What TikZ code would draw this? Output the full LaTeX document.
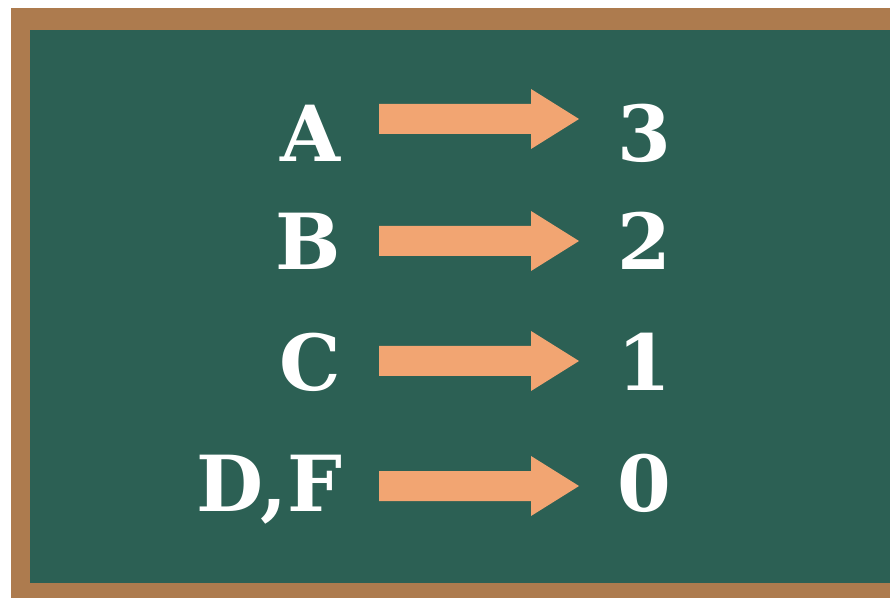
\documentclass[tikz,border=0pt]{standalone}
\usepackage{fontspec}
\setmainfont{DejaVu Serif}
\usetikzlibrary{positioning}
\definecolor{boardgreen}{HTML}{2C6054}
\definecolor{framebrown}{HTML}{AD7B4E}
\definecolor{arrowfill}{HTML}{F2A572}

\begin{document}
\begin{tikzpicture}[x=0.03cm, y=-0.03cm,
  lbl/.style={text=white, font=\fontsize{66}{72}\selectfont\bfseries, inner sep=0pt},
  blk/.style={fill=arrowfill}]
\useasboundingbox (0,0) rectangle (890,598);
\fill[white] (0,0) rectangle (890,598);
% board
\fill[framebrown] (11,8) rectangle (890,598);
\fill[boardgreen] (30,30) rectangle (890,583);
% left column
\node[lbl, anchor=base east] (A) at (341,162) {A};
\node[lbl, anchor=base east] (B) at (341,270) {B};
\node[lbl, anchor=base east] (C) at (341,391) {C};
\node[lbl, anchor=base east] (DF) at (343,511) {D,F};
% right column
\node[lbl, anchor=base] (n3) at (644,162) {3};
\node[lbl, anchor=base] (n2) at (644,270) {2};
\node[lbl, anchor=base] (n1) at (644,391) {1};
\node[lbl, anchor=base] (n0) at (644,511) {0};
% arrows
\coordinate (tA) at (379,119);
\coordinate (tB) at (379,241);
\coordinate (tC) at (379,361);
\coordinate (tDF) at (379,486);
\fill[blk] (tA) ++(0,-15) -- ++(152,0) -- ++(0,-15) -- ++(48,30) -- ++(-48,30) -- ++(0,-15) -- ++(-152,0) -- cycle;
\fill[blk] (tB) ++(0,-15) -- ++(152,0) -- ++(0,-15) -- ++(48,30) -- ++(-48,30) -- ++(0,-15) -- ++(-152,0) -- cycle;
\fill[blk] (tC) ++(0,-15) -- ++(152,0) -- ++(0,-15) -- ++(48,30) -- ++(-48,30) -- ++(0,-15) -- ++(-152,0) -- cycle;
\fill[blk] (tDF) ++(0,-15) -- ++(152,0) -- ++(0,-15) -- ++(48,30) -- ++(-48,30) -- ++(0,-15) -- ++(-152,0) -- cycle;
\end{tikzpicture}
\end{document}
